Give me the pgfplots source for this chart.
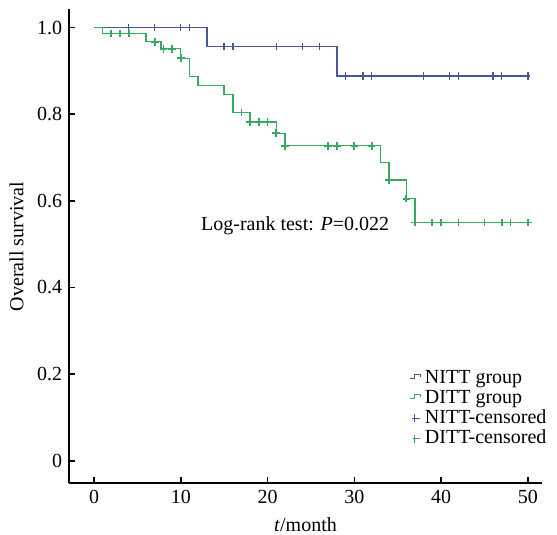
\documentclass[border=0pt]{standalone}
\usepackage{fontspec}
\setmainfont{Liberation Serif}
\usepackage{pgfplots}
\pgfplotsset{compat=1.18}

\definecolor{nittblue}{RGB}{72,86,150}
\definecolor{dittgreen}{RGB}{56,168,98}

\begin{document}
\begin{tikzpicture}
	% page = 557 x 535 px at 0.5pt per px; axis box lower left at origin
	\useasboundingbox (-34.65pt,-25.85pt) rectangle (243.85pt,241.65pt);
	\begin{axis}[
		at={(0pt,0pt)}, anchor=south west,
		scale only axis,
		width=236.2pt, height=237pt,
		xmin=-2.85, xmax=51.6,
		ymin=-0.052, ymax=1.042,
		axis lines=left,
		axis line style={-, line width=0.9pt},
		tick style={black, line width=0.8pt},
		tick align=inside,
		major tick length=3pt,
		xtick={0,10,20,30,40,50},
		ytick={0,0.2,0.4,0.6,0.8,1.0},
		yticklabels={0,0.2,0.4,0.6,0.8,1.0},
		/pgf/number format/assume math mode=true,
		xlabel={\textit{t}/month},
		ylabel={Overall survival},
		clip=false,
		legend style={
			at={(1.032,0.255)}, anchor=north east,
			draw=none, fill=none,
			row sep=-2.3pt,
			cells={anchor=west},
		},
		legend cell align={left},
		]
		% NITT group (Kaplan-Meier steps)
		\addplot[const plot, nittblue, line width=0.7pt,
			legend image code/.code={\draw[nittblue, line width=0.6pt] (-2.5pt,0pt) -- (-0.3pt,0pt) -- (-0.3pt,2pt) -- (2.5pt,2pt) -- (2.5pt,0.8pt);}]
			coordinates {(0,1) (13,0.956) (28,0.888) (50.3,0.888)};
		\addlegendentry{NITT group}
		% DITT group
		\addplot[const plot, dittgreen, line width=0.7pt,
			legend image code/.code={\draw[dittgreen, line width=0.6pt] (-2.5pt,0pt) -- (-0.3pt,0pt) -- (-0.3pt,2pt) -- (2.5pt,2pt) -- (2.5pt,0.8pt);}]
			coordinates {(0,1) (1,0.986) (6,0.967) (7.7,0.951) (10,0.929) (11,0.887) (12,0.866)
				(15,0.845) (16,0.804) (18,0.782) (21,0.756) (22,0.727) (33,0.689) (34,0.648)
				(36,0.605) (37,0.550) (50.4,0.550)};
		\addlegendentry{DITT group}
		% censored marks
		\addplot[only marks, mark=|, mark size=1.8pt, nittblue, mark options={line width=0.7pt},
			legend image code/.code={\draw[nittblue, line width=0.6pt] (-1.8pt,0pt) -- (2.5pt,0pt); \draw[nittblue, line width=0.6pt] (-0.5pt,-2pt) -- (-0.5pt,2pt);}]
			coordinates {(4,1) (7,1) (10,1) (11,1)
				(15,0.956) (16,0.956) (21,0.956) (24,0.956) (26,0.956)
				(29,0.888) (31,0.888) (32,0.888) (38,0.888) (41,0.888) (42,0.888)
				(46,0.888) (47,0.888) (50,0.888)};
		\addlegendentry{NITT-censored}
		\addplot[only marks, mark=+, mark size=1.9pt, dittgreen, mark options={line width=0.9pt},
			legend image code/.code={\draw[dittgreen, line width=0.6pt] (-1pt,0pt) -- (2.5pt,0pt); \draw[dittgreen, line width=0.6pt] (-0.5pt,-2pt) -- (-0.5pt,2pt);}]
			coordinates {(2,0.986) (3,0.986) (4,0.986) (7,0.967) (8,0.951) (9,0.951) (10,0.929)
				(17,0.804) (18,0.782) (19,0.782) (20,0.782) (21,0.756)
				(22,0.727) (27,0.727) (28,0.727) (30,0.727) (32,0.727)
				(34,0.648) (36,0.605)
				(37,0.550) (39,0.550) (40,0.550) (42,0.550) (45,0.550) (47,0.550) (48,0.550) (50,0.550)};
		\addlegendentry{DITT-censored}
		\node[anchor=base west, inner sep=0pt] at (axis cs:12.3,0.532) {Log-rank test: \textit{P}=0.022};
	\end{axis}
\end{tikzpicture}
\end{document}
